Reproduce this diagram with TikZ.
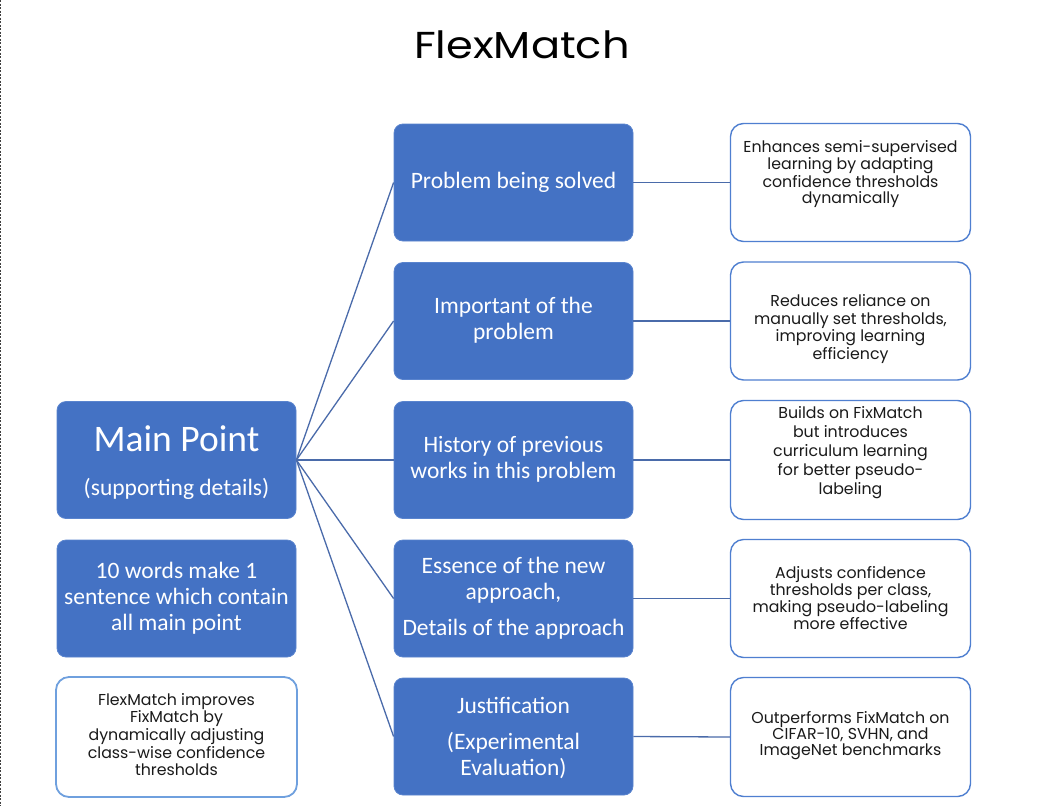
\documentclass[tikz,border=0pt]{standalone}
\usepackage{fontspec}
\setmainfont{Carlito}
\newfontfamily\mont{Poppins}
\newfontfamily\montw[FakeStretch=1.15]{Poppins}
\definecolor{obl}{HTML}{4472C4}
\definecolor{obd}{HTML}{5A84CE}
\definecolor{lnk}{HTML}{4A6BAA}
\definecolor{wbd}{HTML}{4F7FD0}
\definecolor{wbdl}{HTML}{6FA0DE}
\definecolor{txt}{HTML}{1A1A1A}
\tikzset{
  bluebox/.style={fill=obl, draw=obd, line width=0.8pt, rounded corners=9pt, minimum width=239pt, minimum height=117pt, inner sep=0pt},
  whitebox/.style={fill=white, draw=wbd, line width=1.4pt, rounded corners=13pt, minimum width=240pt, minimum height=118pt, inner sep=0pt},
  whiteboxl/.style={whitebox, draw=wbdl, line width=1.8pt},
  btext/.style={text=white, align=center, inner sep=0pt, font=\fontsize{23.5}{26}\selectfont},
  wtext/.style={text=txt, align=center, inner sep=0pt},
  link/.style={draw=lnk, line width=1.3pt},
}
\begin{document}
\begin{tikzpicture}[x=1pt,y=-1pt]
\useasboundingbox (0,0) rectangle (1043,806);
\fill[white] (0,0) rectangle (1043,806);
\draw[black!75, line width=1pt, dash pattern=on 2pt off 1.5pt] (0.5,0) -- (0.5,806);
% title
\node[text=black, inner sep=0pt, font=\montw\fontsize{37.5}{44}\selectfont] (title) at (522,45) {FlexMatch};
% left column
\node[bluebox] (mp) at (176.5,460) {};
\node[btext, font=\fontsize{37.5}{42}\selectfont] (mpt) at (176.5,439) {Main Point};
\node[btext] (mps) at (176.5,489) {(supporting details)};
\node[bluebox] (tw) at (176.5,598.5) {};
\node[btext] (twt) at (176.5,598) {10 words make 1\\sentence which contain\\all main point};
\node[whiteboxl, minimum width=241pt, minimum height=120pt] (fm) at (176.5,737) {};
\node[wtext, font=\mont\fontsize{15.8}{17.7}\selectfont] (fmt) at (176.5,734.5) {FlexMatch improves\\FixMatch by\\dynamically adjusting\\class-wise confidence\\thresholds};
% middle column
\node[bluebox] (m1) at (513.5,182.5) {};
\node[btext] (m1t) at (513.5,182.5) {Problem being solved};
\node[bluebox] (m2) at (513.5,321) {};
\node[btext] (m2t) at (513.5,320.5) {Important of the\\problem};
\node[bluebox] (m3) at (513.5,460) {};
\node[btext] (m3t) at (513.5,459.5) {History of previous\\works in this problem};
\node[bluebox] (m4) at (513.5,598.5) {};
\node[btext] (m4t) at (513.5,580.5) {Essence of the new\\approach,};
\node[btext] (m4u) at (513.5,629.5) {Details of the approach};
\node[bluebox] (m5) at (513.5,736.5) {};
\node[btext] (m5t) at (513.5,705) {Justification};
\node[btext] (m5u) at (513.5,755.5) {(Experimental\\Evaluation)};
% right column
\node[whitebox] (r1) at (850.5,182.5) {};
\node[wtext, font=\mont\fontsize{15.8}{16}\selectfont] (r1t) at (850.5,174) {Enhances semi-supervised\\learning by adapting\\confidence thresholds\\dynamically};
\node[whitebox] (r2) at (850.5,321) {};
\node[wtext, font=\mont\fontsize{15.8}{17.7}\selectfont] (r2t) at (850.5,329) {Reduces reliance on\\manually set thresholds,\\improving learning\\efficiency};
\node[whitebox, minimum height=119pt] (r3) at (850.5,460) {};
\node[wtext, font=\mont\fontsize{15.8}{19}\selectfont] (r3t) at (850.5,453) {Builds on FixMatch\\but introduces\\curriculum learning\\for better pseudo-\\labeling};
\node[whitebox] (r4) at (850.5,598.5) {};
\node[wtext, font=\mont\fontsize{15.8}{17.3}\selectfont] (r4t) at (850.5,598) {Adjusts confidence\\thresholds per class,\\making pseudo-labeling\\more effective};
\node[whitebox, minimum height=119pt] (r5) at (850.5,737) {};
\node[wtext, font=\mont\fontsize{15.8}{16}\selectfont] (r5t) at (850.5,736) {Outperforms FixMatch on\\CIFAR-10, SVHN, and\\ImageNet benchmarks};
% connectors
\foreach \i in {1,...,5} {
  \draw[link] (mp.east) -- (m\i.west);
  \draw[link] (m\i.east) -- (r\i.west);
}
\end{tikzpicture}
\end{document}
